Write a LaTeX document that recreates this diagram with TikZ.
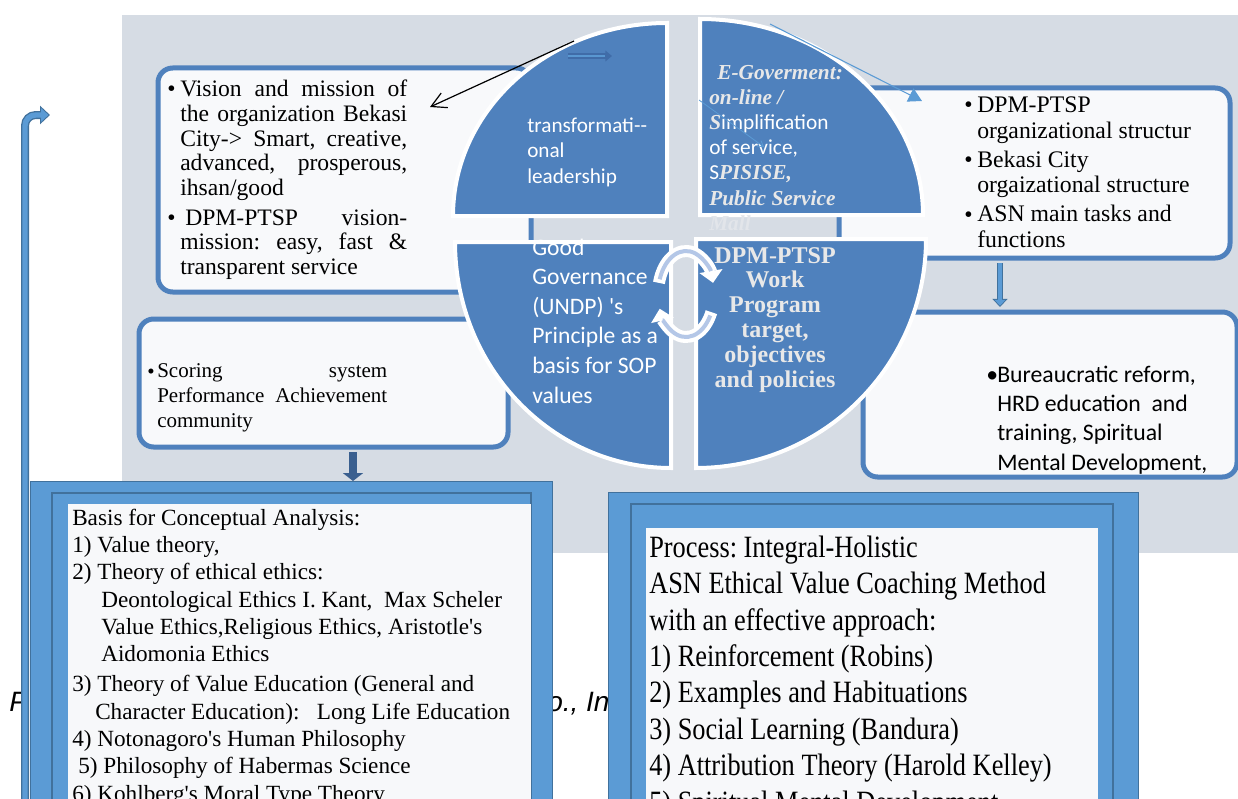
\documentclass[tikz,border=0pt]{standalone}
\usepackage{fontspec}
\setmainfont{Liberation Serif}
\newfontfamily\calfont{Carlito}
\newfontfamily\capfont{Liberation Sans}
\newfontfamily\condserif[FakeStretch=0.85]{Liberation Serif}
\usetikzlibrary{arrows.meta,calc}
\definecolor{bgray}{RGB}{214,220,228}
\definecolor{qblue}{RGB}{79,129,189}
\definecolor{boxfill}{RGB}{248,249,251}
\definecolor{whitefill}{RGB}{247,248,250}
\definecolor{mblue}{RGB}{91,155,213}
\definecolor{dblue}{RGB}{65,113,156}
\definecolor{darr}{RGB}{58,95,143}
\definecolor{lgray}{RGB}{232,232,232}
\definecolor{mallc}{RGB}{226,229,234}
\definecolor{cycc}{RGB}{180,199,231}
\definecolor{hollow}{RGB}{64,108,168}
\newcommand{\aps}{{\addfontfeatures{Ligatures=TeXOff}\symbol{39}}}
\newcommand{\jl}[2]{\makebox[#1][s]{#2}}
\tikzset{
  rbox/.style={draw=qblue, line width=3.75pt, fill=boxfill, rounded corners=11pt, inner sep=0pt, anchor=north west},
  quad/.style={fill=qblue, draw=white, line width=3pt},
  txt/.style={inner sep=0pt, anchor=base west, align=left},
  bigout/.style={fill=mblue, draw=dblue, line width=0.8pt, anchor=north west, inner sep=0pt},
  capt/.style={inner sep=0pt, anchor=base west, font=\capfont\itshape\fontsize{21pt}{25pt}\selectfont},
  visfont/.style={font=\fontsize{17.7pt}{18.45pt}\selectfont},
  orgfont/.style={font=\fontsize{17.8pt}{19pt}\selectfont},
  scofont/.style={font=\fontsize{15.75pt}{18.4pt}\selectfont},
  burfont/.style={font=\calfont\fontsize{17.8pt}{22pt}\selectfont},
}
\begin{document}
\frenchspacing
\begin{tikzpicture}[x=0.75pt,y=-0.75pt]
\useasboundingbox (0,0) rectangle (1238,799);
\fill[bgray] (122,15) rectangle (1238,553);

% caption fragments (mostly hidden)
\node[capt] (capP) at (9,711) {P};
\node[capt] (capI) at (547,711) {o., In};

% big bottom boxes
\node[bigout, minimum width=391.5pt, minimum height=300pt] (leftbig) at (30,481) {};
\draw[dblue, line width=0.8pt, fill=mblue] (52,493) rectangle (531,900);
\fill[whitefill] (68,504) rectangle (531,900);
\node[bigout, minimum width=397.5pt, minimum height=300pt] (rightbig) at (608,492) {};
\draw[dblue, line width=0.8pt, fill=mblue] (631,504) rectangle (1113,900);
\fill[whitefill] (646,528) rectangle (1098,900);

% (multi-line nodes are placed at the baseline of their LAST line)
\node[txt, font=\fontsize{17.4pt}{20.5pt}\selectfont] (lbt) at (72,801) {Basis for Conceptual Analysis:\\
1) Value theory,\\
2) Theory of ethical ethics:\\
\hspace*{21.75pt}Deontological Ethics I. Kant,\ \ Max Scheler\\
\hspace*{21.75pt}Value Ethics,Religious Ethics, Aristotle\aps s\\
\hspace*{21.75pt}Aidomonia Ethics\\[2pt]
3) Theory of Value Education (General and\\
\hspace*{17.25pt}Character Education):\ \ \ Long Life Education\\
4) Notonagoro\aps s Human Philosophy\\
\hspace*{4.5pt}5) Philosophy of Habermas Science\\
6) Kohlberg\aps s Moral Type Theory};

\node[txt, font=\condserif\fontsize{23.25pt}{27.3pt}\selectfont] (rtext) at (649,812) {Process: Integral-Holistic\\
ASN Ethical Value Coaching Method\\
with an effective approach:\\
1) Reinforcement (Robins)\\
2) Examples and Habituations\\
3) Social Learning (Bandura)\\
4) Attribution Theory (Harold Kelley)\\
5) Spiritual Mental Development};

% rounded boxes
\node[rbox, minimum width=279.75pt, minimum height=168pt] (vision) at (155.5,65.5) {};
\node[rbox, minimum width=276.75pt, minimum height=96pt] (scoring) at (136.5,316.5) {};
\node[rbox, minimum width=293.25pt, minimum height=127.5pt] (org) at (836.5,85.5) {};
\node[rbox, minimum width=280.5pt, minimum height=123.75pt] (bureau) at (860.5,309.5) {};

% vision text
\node[txt, visfont] (vb1) at (167,97) {\textbullet};
\node[txt, visfont] (vb2) at (167,225) {\textbullet};
\node[txt, visfont] (vtext) at (180,274.5) {\jl{170.25pt}{Vision and mission of}\\
\jl{170.25pt}{the organization Bekasi}\\
\jl{170.25pt}{City-> Smart, creative,}\\
\jl{170.25pt}{advanced, prosperous,}\\
ihsan/good\\[4pt]
\hspace*{3.75pt}\jl{166.5pt}{DPM-PTSP vision-}\\
\jl{170.25pt}{mission: easy, fast \&}\\
transparent service};

% org text
\node[txt, orgfont] (ob1) at (964,113) {\textbullet};
\node[txt, orgfont] (ob2) at (964,167) {\textbullet};
\node[txt, orgfont] (ob3) at (964,222) {\textbullet};
\node[txt, orgfont] (otext) at (977,247) {DPM-PTSP\\
organizational structur\\[2.8pt]
Bekasi City\\
orgaizational structure\\[2.8pt]
ASN main tasks and\\
functions};

% scoring text
\node[txt, scofont] (sb) at (147,378) {\textbullet};
\node[txt, scofont] (stext) at (157,427) {\jl{172.5pt}{Scoring system}\\
\jl{172.5pt}{Performance Achievement}\\
community};

% bureaucratic text
\node[txt, burfont] (bb) at (986,382) {\textbullet};
\node[txt, burfont] (btext) at (997,470) {Bureaucratic reform,\\
HRD education\ \ and\\
training, Spiritual\\
Mental Development,};

% connectors between boxes
\coordinate (ox) at (1000,0);
\draw[dblue, line width=4.5pt, shorten <=1.9pt, shorten >=1.9pt, -{Triangle[length=6pt,width=11pt]}] (org.south -| ox) -- (bureau.north -| ox);
\draw[mblue, line width=2.5pt, shorten <=1.9pt, shorten >=2.8pt, -{Triangle[length=4.5pt,width=8pt]}] (org.south -| ox) -- (bureau.north -| ox);
\coordinate (sx) at (353,0);
\draw[darr, line width=6pt, shorten <=1.9pt, -{Triangle[length=6pt,width=15pt]}] (scoring.south -| sx) -- (leftbig.north -| sx);

% circle quadrants
\draw[quad] (667,216) -- ++(-160.5pt,0pt) arc[start angle=180, end angle=90, x radius=160.5pt, y radius=144.75pt] -- cycle;
\draw[quad] (700,215) -- ++(0pt,147pt) arc[start angle=90, end angle=0, x radius=167.25pt, y radius=147pt] -- cycle;
\draw[quad] (671,242) -- ++(-162pt,0pt) arc[start angle=180, end angle=270, x radius=162pt, y radius=169.5pt] -- cycle;
\draw[quad] (696,239) -- ++(172.5pt,0pt) arc[start angle=0, end angle=-90, x radius=172.5pt, y radius=171.75pt] -- cycle;

% quadrant texts
\node[txt, text=white, font=\calfont\fontsize{15.9pt}{19.1pt}\selectfont] (qtl) at (527,183) {transformati-{}-\\onal\\leadership};
\node[txt, font=\fontsize{16pt}{18.9pt}\selectfont] (qtr) at (709,205) {\hspace*{6pt}\textcolor{lgray}{\bfseries\itshape E-Goverment:}\\
\textcolor{lgray}{\bfseries\itshape on-line /}\\
\textcolor{lgray}{\bfseries\itshape S}\textcolor{white}{\calfont implification}\\
\textcolor{white}{\calfont of service,}\\
\textcolor{white}{\calfont S}\textcolor{lgray}{\bfseries\itshape PISISE,}\\
\textcolor{lgray}{\bfseries\itshape Public Service}};
\node[txt, text=mallc, font=\fontsize{16pt}{18.9pt}\selectfont\bfseries\itshape] (mall) at (709,230) {Mall};
\node[txt, text=white, font=\calfont\fontsize{17.7pt}{22.2pt}\selectfont] (qbl) at (532,403) {Good\\Governance\\(UNDP) \aps s\\Principle as a\\basis for SOP\\values};
\node[inner sep=0pt, anchor=base, align=center, text=lgray, font=\bfseries\fontsize{18pt}{18.6pt}\selectfont] (qbr) at (775,387) {DPM-PTSP\\Work\\Program\\target,\\objectives\\and policies};

% cycle arrows
\coordinate (cyc) at (686,294);
\draw[white, line width=9pt, -{Triangle[length=9pt,width=17pt]}] ($(cyc)+(165:21pt and 32.25pt)$) arc[start angle=165, end angle=15, x radius=21pt, y radius=32.25pt];
\draw[cycc, line width=3pt, shorten >=9pt] ($(cyc)+(160:21pt and 32.25pt)$) arc[start angle=160, end angle=15, x radius=21pt, y radius=32.25pt];
\draw[white, line width=9pt, -{Triangle[length=9pt,width=17pt]}] ($(cyc)+(-25:21pt and 32.25pt)$) arc[start angle=-25, end angle=-160, x radius=21pt, y radius=32.25pt];
\draw[cycc, line width=3pt, shorten >=9pt] ($(cyc)+(-30:21pt and 32.25pt)$) arc[start angle=-30, end angle=-160, x radius=21pt, y radius=32.25pt];

% small hollow arrow
\coordinate (has) at (568,56);
\coordinate (hae) at (612,56);
\draw[hollow, line width=4pt, -{Triangle[length=5pt,width=8pt]}] (has) -- (hae);
\draw[mblue!85!qblue, line width=1.4pt, shorten >=5pt] (has) -- (hae);

% black arrow
\coordinate (bks) at (574,41);
\coordinate (bke) at (430,107);
\draw[black, line width=0.9pt, -{Straight Barb[length=11pt,width=12pt]}] (bks) -- (bke);

% thin blue arrows
\coordinate (tbs) at (770,24);
\coordinate (tbe) at (922,101);
\draw[mblue, line width=0.8pt, -{Triangle[length=10pt,width=11pt]}] (tbs) -- (tbe);
\coordinate (sms) at (699,100);
\coordinate (sme) at (764,147);
\draw[mblue, line width=0.6pt, -{Straight Barb[length=4pt,width=5pt]}] (sms) -- (sme);

% loop arrow on the left
\coordinate (lps) at (25,830);
\coordinate (lpe) at (50,115);
\draw[dblue, line width=6pt, rounded corners=8pt, -{Triangle[length=7.5pt,width=13.5pt]}] (lps) |- (lpe);
\draw[mblue, line width=4pt, rounded corners=8pt, shorten >=1.2pt, -{Triangle[length=5.5pt,width=10pt]}] (lps) |- (lpe);
\end{tikzpicture}
\end{document}
